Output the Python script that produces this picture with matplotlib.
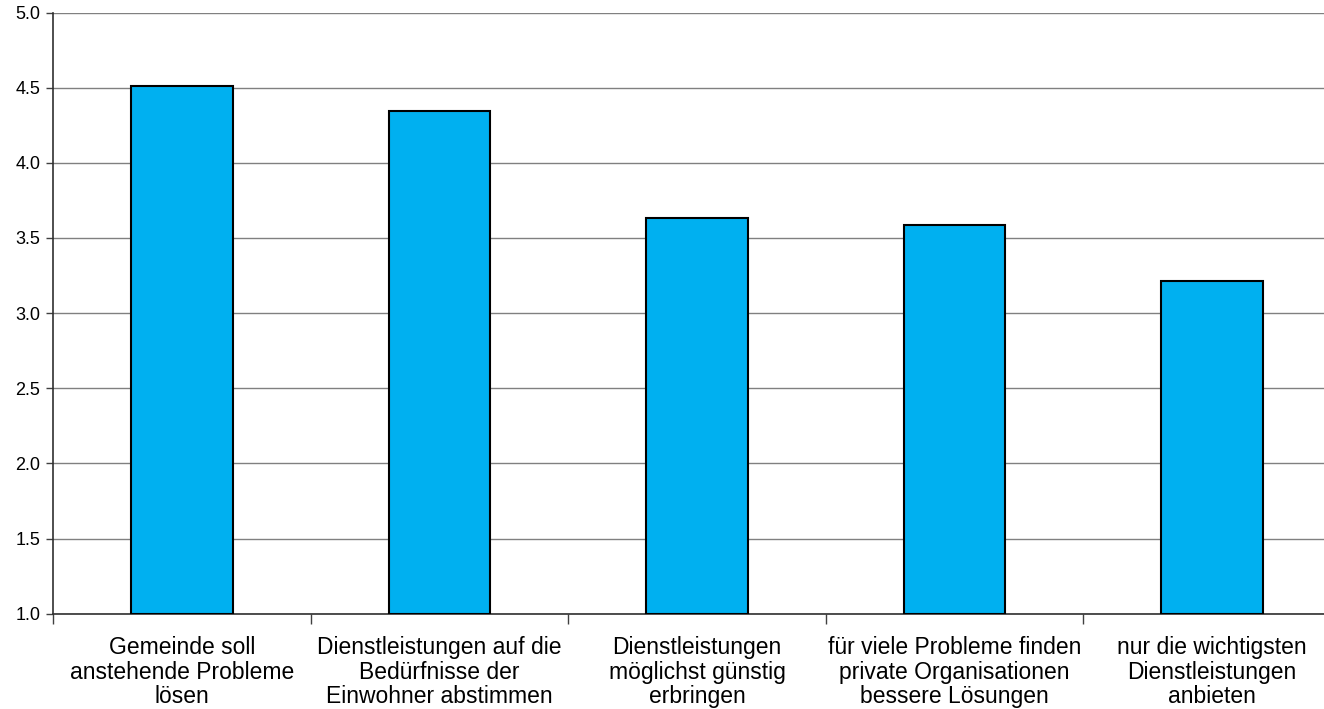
import matplotlib
matplotlib.use("Agg")
import matplotlib.pyplot as plt
import numpy as np

categories = [
    "Gemeinde soll\nanstehende Probleme\nlösen",
    "Dienstleistungen auf die\nBedürfnisse der\nEinwohner abstimmen",
    "Dienstleistungen\nmöglichst günstig\nerbringen",
    "für viele Probleme finden\nprivate Organisationen\nbessere Lösungen",
    "nur die wichtigsten\nDienstleistungen\nanbieten",
]
values = [4.51, 4.345, 3.63, 3.585, 3.215]
yticks = [1.0, 1.5, 2.0, 2.5, 3.0, 3.5, 4.0, 4.5, 5.0]

plt.rcParams['font.family'] = ['Liberation Sans', 'DejaVu Sans']

fig = plt.figure(figsize=(13.24, 7.09), dpi=100)
ax = fig.add_axes([53/1324, 1 - 613.7/709, (1341 - 53)/1324, (613.7 - 12.5)/709])

x = np.arange(len(categories))
ax.bar(x, [v - 1.0 for v in values], bottom=1.0, width=0.395,
       color="#00B0F0", edgecolor="black", linewidth=1.5, zorder=3)

ax.set_xlim(-0.5, len(categories) - 0.5)
ax.set_ylim(1.0, 5.0)
ax.set_yticks(yticks)
ax.set_yticklabels([f"{t:.1f}" for t in yticks], fontsize=13)
ax.yaxis.grid(True, color="#808080", linewidth=1.0, zorder=0)
ax.set_axisbelow(True)

ax.set_xticks(x)
ax.set_xticklabels(categories, fontsize=16.5, linespacing=1.09)
ax.tick_params(axis='x', which='major', length=0, pad=16)
ax.set_xticks(np.arange(len(categories) + 1) - 0.5, minor=True)
ax.tick_params(axis='x', which='minor', length=7, width=1, color="#404040")
ax.tick_params(axis='y', length=5, width=1, color="#404040", pad=4)

for s in ['top', 'right']:
    ax.spines[s].set_visible(False)
ax.spines['left'].set_color("#303030")
ax.spines['bottom'].set_color("#303030")
ax.spines['left'].set_linewidth(1.2)
ax.spines['bottom'].set_linewidth(1.2)

fig.savefig("out.png", dpi=100)
